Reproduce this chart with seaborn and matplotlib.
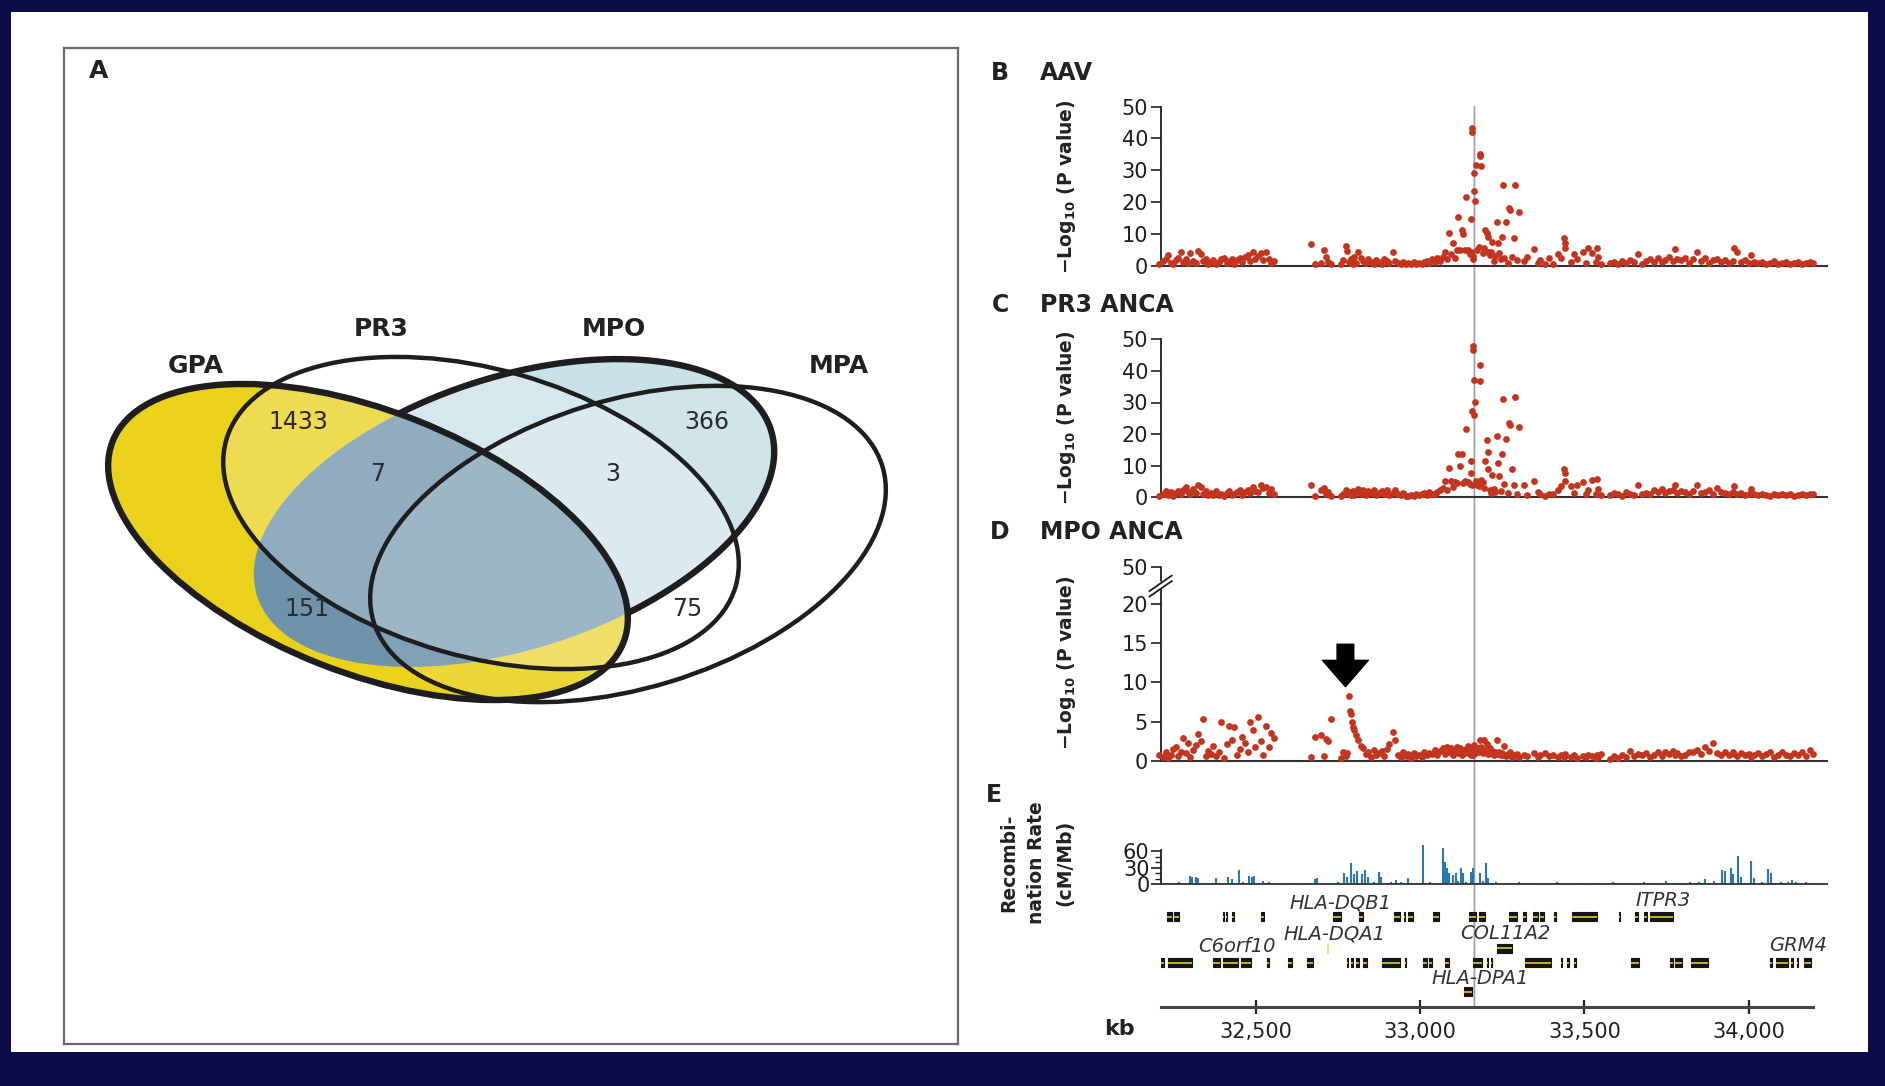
import numpy as np
import matplotlib
matplotlib.use("Agg")
import matplotlib.pyplot as plt
import seaborn as sns
from matplotlib.patches import Ellipse, Rectangle, ConnectionPatch

# ---------------- data ----------------
set_names = ["GPA", "PR3", "MPO", "MPA"]
region_counts = ["1433", "7", "3", "366", "151", "75"]

# SNP positions (kb, chr 6) and -log10 P for the three analyses
snp_kb = [
    32205, 32215, 32224, 32232, 32240, 32248, 32256, 32263, 32270, 32278,
    32286, 32293, 32300, 32308, 32316, 32323, 32331, 32338, 32346, 32354,
    32362, 32370, 32378, 32386, 32394, 32402, 32410, 32418, 32426, 32434,
    32442, 32450, 32458, 32466, 32474, 32482, 32490, 32498, 32506, 32514,
    32522, 32530, 32538, 32546, 32553,
    32668, 32680, 32698, 32706, 32712, 32718, 32728,
    32758, 32766, 32774, 32778, 32782, 32785, 32788, 32791, 32795, 32799,
    32804, 32811, 32818, 32826, 32834, 32842, 32850, 32858, 32866, 32874,
    32882, 32890, 32898, 32906, 32916, 32924, 32932, 32940, 32948, 32956,
    32964, 32972, 32980, 32988, 32996, 33004, 33012, 33020, 33028, 33036,
    33044, 33052, 33060, 33068, 33075, 33082, 33088, 33094, 33099, 33105,
    33112, 33115, 33122, 33128, 33131, 33136, 33139, 33145, 33150, 33154,
    33156, 33157, 33159, 33161, 33162, 33164, 33165, 33166, 33170, 33174,
    33178, 33181, 33183, 33186, 33190, 33194, 33197, 33202, 33205, 33207,
    33212, 33214, 33219, 33224, 33229, 33233, 33236, 33240, 33245, 33249,
    33253, 33256, 33262, 33266, 33270, 33273, 33280, 33286, 33289, 33294,
    33302,
    33316, 33326, 33346, 33358, 33366, 33380, 33392, 33405, 33421, 33429,
    33437, 33440, 33442, 33458, 33469, 33478, 33495, 33505, 33511, 33524,
    33535, 33537, 33540, 33552,
    33577, 33590, 33602, 33614, 33626, 33638, 33650, 33663, 33675, 33687,
    33699, 33711, 33723, 33735, 33747, 33759, 33771, 33775, 33783, 33795,
    33807, 33819, 33831, 33844, 33856, 33868, 33880, 33892, 33904, 33916,
    33928, 33940, 33952, 33957, 33964, 33976, 33988, 34000, 34006, 34018,
    34030, 34042, 34054, 34066, 34078, 34090, 34102, 34114, 34126, 34138,
    34150, 34162, 34174, 34186, 34196,
]

aav_logp = [
    0.6, 1.5, 2.2, 3.4, 1.0, 0.5, 1.8, 2.5, 4.2, 1.2,
    2.0, 0.7, 3.9, 1.6, 0.8, 4.6, 3.6, 1.4, 2.2, 0.6,
    1.1, 1.8, 0.5, 1.3, 2.0, 2.4, 0.9, 1.5, 2.1, 0.6,
    1.7, 2.3, 1.2, 2.6, 3.4, 1.5, 4.4, 2.0, 3.0, 3.9,
    1.8, 4.4, 2.2, 1.0, 1.6,
    6.7, 0.5, 1.0, 4.9, 2.8, 1.3, 0.4,
    0.6, 1.8, 6.3, 4.6, 1.2, 0.8, 2.0, 1.5, 0.6, 2.6,
    1.0, 4.4, 2.3, 1.5, 0.7, 2.1, 1.2, 0.5, 1.9, 1.3,
    0.6, 2.2, 1.4, 0.8, 4.2, 1.6, 0.9, 0.5, 1.1, 0.4,
    0.7, 0.5, 1.2, 0.4, 0.9, 0.6, 1.3, 1.6, 0.8, 2.0,
    1.1, 2.4, 1.5, 2.8, 4.4, 2.0, 10.4, 3.6, 7.0, 2.5,
    4.9, 15.3, 4.9, 11.2, 9.9, 4.9, 21.7, 4.9, 3.8, 14.7,
    4.2, 43.2, 41.9, 2.0, 3.1, 29.0, 23.5, 20.3, 31.7, 4.8,
    6.0, 35.0, 34.6, 31.2, 4.0, 5.5, 11.2, 10.2, 4.2, 9.1,
    3.4, 4.4, 7.5, 1.5, 3.0, 13.8, 7.0, 3.9, 2.0, 9.1,
    25.4, 2.3, 13.6, 1.0, 18.2, 17.5, 2.8, 8.8, 25.4, 1.8,
    17.0,
    1.5, 2.8, 5.2, 0.9, 1.8, 0.6, 2.3, 0.5, 3.6, 2.3,
    8.6, 7.0, 5.5, 1.2, 3.6, 2.0, 4.4, 0.8, 5.5, 3.9,
    1.3, 5.5, 2.8, 0.5,
    0.8, 1.2, 0.5, 1.5, 0.9, 1.8, 1.1, 3.8, 0.6, 1.6,
    2.0, 1.3, 2.4, 1.1, 1.9, 2.6, 1.4, 5.2, 2.2, 1.7,
    2.5, 1.0, 2.1, 4.4, 1.6, 2.3, 0.9, 1.8, 2.0, 1.2,
    1.7, 0.8, 1.5, 5.5, 4.4, 1.1, 1.9, 0.7, 3.4, 1.2,
    0.8, 1.3, 0.5, 1.0, 1.4, 0.6, 0.9, 1.2, 0.4, 0.8,
    1.1, 0.5, 0.9, 1.2, 0.7,
]

pr3_logp = [
    0.4, 1.2, 2.1, 0.8, 1.6, 0.5, 1.4, 2.0, 1.0, 2.4,
    3.2, 1.8, 0.9, 2.6, 1.5, 3.8, 3.2, 1.1, 2.0, 0.7,
    1.3, 0.6, 1.9, 0.8, 1.2, 0.5, 1.5, 1.9, 0.7, 1.0,
    1.6, 2.4, 0.8, 1.7, 2.4, 1.4, 3.4, 2.1, 1.8, 3.8,
    2.8, 3.2, 1.4, 2.6, 1.0,
    3.8, 0.4, 2.2, 3.0, 1.0, 1.7, 0.5,
    0.5, 1.2, 2.2, 1.5, 0.9, 1.8, 0.6, 1.4, 2.0, 0.8,
    1.7, 2.6, 1.1, 2.4, 0.6, 1.9, 1.3, 2.2, 0.8, 1.5,
    1.9, 1.2, 2.4, 0.7, 1.5, 2.2, 1.0, 0.6, 1.3, 0.4,
    0.5, 0.8, 0.4, 1.0, 0.6, 0.9, 1.4, 0.7, 1.8, 1.2,
    0.9, 1.6, 2.3, 3.0, 5.1, 2.4, 9.3, 5.3, 3.2, 4.9,
    4.5, 13.7, 9.8, 13.7, 4.5, 5.1, 21.6, 5.0, 4.2, 11.4,
    7.7, 27.2, 4.0, 47.8, 46.7, 37.2, 26.0, 30.2, 5.1, 4.0,
    3.6, 36.9, 42.0, 5.5, 4.8, 3.0, 11.6, 18.0, 8.8, 14.2,
    2.2, 1.4, 7.2, 2.5, 1.8, 19.3, 10.9, 6.6, 2.0, 13.7,
    31.2, 4.2, 18.5, 1.5, 23.5, 23.0, 8.8, 4.0, 31.8, 1.2,
    22.3,
    4.0, 0.8, 5.1, 1.6, 1.0, 0.5, 1.2, 0.9, 2.4, 3.5,
    8.8, 7.7, 5.3, 3.5, 1.5, 4.0, 4.9, 1.0, 2.2, 5.6,
    1.2, 5.9, 2.6, 0.6,
    0.6, 1.5, 0.9, 0.5, 1.8, 1.2, 0.7, 4.0, 1.1, 1.4,
    1.0, 2.2, 1.6, 2.6, 1.3, 1.9, 2.4, 4.0, 1.5, 2.1,
    1.8, 1.2, 2.0, 4.0, 1.4, 1.7, 2.3, 1.1, 3.0, 1.6,
    1.3, 0.9, 1.6, 3.5, 1.2, 1.4, 0.8, 1.1, 2.7, 0.9,
    0.6, 1.0, 0.8, 0.5, 1.1, 0.7, 0.9, 0.6, 1.0, 0.5,
    0.8, 1.0, 0.6, 0.9, 1.1,
]

mpo_logp = [
    0.7, 0.5, 1.2, 0.4, 0.8, 1.5, 1.8, 0.6, 1.1, 2.9,
    1.0, 2.3, 0.5, 1.4, 2.0, 3.4, 2.5, 5.4, 0.6, 1.3,
    0.9, 1.9, 0.6, 1.1, 4.9, 0.4, 2.1, 4.5, 2.7, 4.3,
    0.8, 1.5, 3.0, 2.3, 1.2, 5.0, 4.0, 1.8, 5.6, 2.5,
    0.8, 4.4, 1.8, 3.5, 2.9,
    0.5, 3.1, 3.3, 0.6, 2.8, 2.5, 5.4,
    0.4, 1.2, 0.6, 1.0, 8.3, 6.4, 6.0, 5.0, 4.3, 3.9,
    3.3, 2.7, 1.9, 1.6, 0.9, 1.2, 0.5, 1.4, 0.7, 1.0,
    1.3, 0.6, 1.5, 2.1, 3.7, 2.7, 0.8, 0.5, 1.1, 0.6,
    0.9, 0.4, 1.0, 0.6, 0.8, 0.5, 1.2, 0.7, 1.0, 0.9,
    1.4, 0.8, 1.3, 1.6, 0.9, 1.8, 1.1, 1.6, 0.7, 1.2,
    1.8, 1.0, 1.6, 0.8, 1.4, 1.0, 1.5, 1.9, 0.9, 1.3,
    0.8, 1.1, 1.6, 1.2, 0.7, 1.4, 2.0, 1.0, 1.3, 1.7,
    1.1, 2.7, 1.5, 1.8, 1.0, 2.7, 1.4, 2.1, 1.2, 0.9,
    1.7, 1.0, 1.3, 0.8, 1.1, 2.7, 0.9, 1.2, 0.7, 1.0,
    0.8, 1.9, 0.6, 0.9, 0.7, 1.1, 0.5, 0.8, 0.6, 0.9,
    0.5,
    0.8, 0.6, 1.0, 0.5, 0.7, 1.0, 0.6, 0.8, 0.5, 0.7,
    0.5, 0.9, 0.6, 0.5, 0.7, 0.4, 0.6, 0.5, 0.8, 0.6,
    0.4, 0.7, 0.5, 0.9,
    0.3, 0.6, 0.4, 0.8, 0.5, 1.3, 0.6, 0.9, 0.7, 1.0,
    0.5, 0.8, 1.1, 0.6, 1.2, 0.9, 1.3, 0.7, 1.0, 0.6,
    0.8, 1.1, 1.2, 1.4, 0.9, 1.8, 1.3, 2.3, 1.0, 0.7,
    1.1, 0.8, 1.2, 0.9, 0.6, 1.0, 0.7, 0.9, 0.5, 0.8,
    1.0, 0.6, 0.9, 1.1, 0.5, 0.8, 1.2, 0.7, 0.6, 1.0,
    0.7, 1.1, 0.6, 1.4, 0.9,
]

# recombination rate (cM/Mb)
rec_kb = [
    32230, 32250, 32265, 32299, 32306, 32318, 32324, 32350, 32379, 32395,
    32414, 32427, 32447, 32460, 32478, 32487, 32494, 32505, 32520, 32540,
    32600, 32650, 32678, 32685, 32700, 32720, 32750, 32768, 32778, 32788,
    32797, 32808, 32821, 32832, 32841, 32860, 32874, 32881, 32895, 32910,
    32927, 32940, 32964, 32990, 33009, 33030, 33045, 33070, 33075, 33082,
    33088, 33101, 33108, 33115, 33125, 33130, 33140, 33154, 33161, 33181,
    33190, 33200, 33207, 33230, 33260, 33300, 33350, 33418, 33480, 33530,
    33588, 33620, 33683, 33710, 33749, 33790, 33821, 33850, 33868, 33880,
    33894, 33918, 33927, 33947, 33954, 33967, 33976, 34006, 34016, 34040,
    34059, 34068, 34080, 34099, 34120, 34132, 34145, 34174, 34190,
]
rec_rate = [
    3, 2, 4, 15.6, 13.8, 13.8, 12, 3, 10.8, 2.5,
    13.8, 9.6, 25.8, 4, 15.6, 13.8, 15.6, 3, 6, 4.8,
    2, 2, 9.6, 11, 3, 2, 4, 19.8, 14, 37.8,
    18, 24, 18, 25.8, 14, 5, 22.8, 14, 3, 4,
    7.8, 4, 10.8, 3, 70.8, 5, 3, 64.8, 40.8, 28.8,
    19.8, 16.8, 19.8, 6, 28.8, 20, 5, 22.8, 28.8, 19.8,
    6, 37.8, 12, 4, 2, 4.8, 2, 3.6, 2, 2,
    4.8, 3, 3.6, 2, 6, 3, 4.8, 4, 9.6, 3,
    6, 25.8, 24, 28.8, 18, 51.6, 14, 42, 12, 4,
    27.6, 19.8, 3, 4, 4, 7.8, 5, 5, 3,
]

# genes (start, end in kb)
gene_row1 = [
    (32229, 32244), (32250, 32265), (32400, 32403), (32407, 32410), (32427, 32432),
    (32516, 32525), (32735, 32758), (32814, 32826), (32919, 32937), (32950, 32955),
    (32964, 32978), (33039, 33057), (33147, 33170), (33179, 33197), (33269, 33296),
    (33313, 33322), (33344, 33358), (33365, 33376), (33408, 33412), (33462, 33537),
    (33605, 33609), (33654, 33663), (33681, 33692), (33700, 33770),
]
gene_row2 = [
    (32194, 32220), (32233, 32305), (32369, 32391), (32400, 32444), (32453, 32484),
    (32534, 32538), (32597, 32609), (32656, 32672), (32776, 32780), (32790, 32794),
    (32803, 32814), (32826, 32839), (32883, 32937), (32955, 32958), (33009, 33020),
    (33027, 33036), (33075, 33089), (33161, 33188), (33202, 33206), (33214, 33218),
    (33319, 33398), (33430, 33433), (33448, 33452), (33469, 33473), (33641, 33666),
    (33761, 33770), (33777, 33797), (33824, 33878), (34066, 34070), (34083, 34120),
    (34130, 34134), (34148, 34152), (34168, 34190),
]
col11a2_kb = (33233, 33278)
hla_dqa1_kb = (32713, 32722)
hla_dpa1_kb = (33134, 33158)
gene_names = ["HLA-DQB1", "ITPR3", "HLA-DQA1", "COL11A2", "C6orf10", "GRM4", "HLA-DPA1"]

kb_ticks = [32500, 33000, 33500, 34000]
lead_snp_kb = 33165
mpo_signal_kb = 32772

# ---------------- style ----------------
sns.set_style("white")
plt.rcParams["font.family"] = ["DejaVu Sans"]
plt.rcParams["mathtext.fontset"] = "dejavusans"

W, H = 1885, 1086
RED = "#c4351f"
BLUE = "#2b78b4"
YELLOW = "#e9d11c"
LIGHTBLUE = "#c9e2e8"
SLATE = "#6e93ab"
INK = "#1e1e1e"

fig = plt.figure(figsize=(W / 100, H / 100), dpi=100, facecolor="#0c0c48")
fig.add_artist(Rectangle((11 / W, 1 - 1052 / H), (1868 - 11) / W, (1052 - 12) / H,
                         transform=fig.transFigure, facecolor="white",
                         edgecolor="none", zorder=-2))


def fax(left, top, right, bottom):
    return fig.add_axes([left / W, 1 - bottom / H, (right - left) / W, (bottom - top) / H])


def ftext(x, y, s, **kw):
    fig.text(x / W, 1 - y / H, s, **kw)


# ---------------- panel A: Venn ----------------
axA = fax(64, 48, 958, 1044)
axA.set_xlim(64, 958)
axA.set_ylim(1044, 48)
axA.set_xticks([])
axA.set_yticks([])
for sp in axA.spines.values():
    sp.set_visible(True)
    sp.set_color("#6a6a6a")
    sp.set_linewidth(1.6)

venn_geom = {
    "GPA": ((368, 542), 549, 262, 21.5),
    "PR3": ((481, 513), 530, 287, 16),
    "MPO": ((514, 513), 540, 272, -18),
    "MPA": ((628, 544), 532, 288, -17),
}


def ell(name, **kw):
    c, w, h, a = venn_geom[name]
    p = Ellipse(c, w, h, angle=a, **kw)
    axA.add_patch(p)
    return p


def inside(pts, name):
    (cx, cy), w, h, a = venn_geom[name]
    th = np.deg2rad(a)
    dx, dy = pts[:, 0] - cx, pts[:, 1] - cy
    u = dx * np.cos(th) + dy * np.sin(th)
    v = -dx * np.sin(th) + dy * np.cos(th)
    return (u / (w / 2)) ** 2 + (v / (h / 2)) ** 2 < 1


ell("MPO", facecolor=LIGHTBLUE, edgecolor="none", zorder=1)
gpa_fill = ell("GPA", facecolor=YELLOW, edgecolor="none", zorder=2)
overlap = ell("MPO", facecolor=SLATE, edgecolor="none", zorder=3)
overlap.set_clip_path(gpa_fill)
ell("PR3", facecolor="white", alpha=0.24, edgecolor="none", zorder=4)
ell("MPA", facecolor="white", alpha=0.12, edgecolor="none", zorder=4)

# MPO outline only where it lies outside GPA
(cx, cy), w, h, a = venn_geom["MPO"]
t = np.linspace(0, 2 * np.pi, 1500)
th = np.deg2rad(a)
px = cx + (w / 2) * np.cos(t) * np.cos(th) - (h / 2) * np.sin(t) * np.sin(th)
py = cy + (w / 2) * np.cos(t) * np.sin(th) + (h / 2) * np.sin(t) * np.cos(th)
pts = np.column_stack([px, py])
mask = inside(pts, "GPA")
start = int(np.argmax(mask))
pts = np.roll(pts, -start, axis=0)
mask = np.roll(mask, -start)
pts[mask] = np.nan
axA.plot(pts[:, 0], pts[:, 1], color=INK, lw=4.6, zorder=5, solid_capstyle="butt")

ell("GPA", facecolor="none", edgecolor=INK, lw=4.6, zorder=6)
ell("PR3", facecolor="none", edgecolor=INK, lw=3.2, zorder=6)
ell("MPA", facecolor="none", edgecolor=INK, lw=3.2, zorder=6)

for name, (x, y) in zip(set_names, [(196, 366), (381, 329), (614, 329), (839, 366)]):
    axA.text(x, y, name, ha="center", va="center", fontsize=18, fontweight="bold", color="#222222")
for cnt, (x, y) in zip(region_counts, [(298, 422), (378, 474), (613, 474), (707, 422), (307, 609), (687, 609)]):
    axA.text(x, y, cnt, ha="center", va="center", fontsize=17, color="#2b2b2b", zorder=7)
axA.text(99, 71, "A", ha="center", va="center", fontsize=18, fontweight="bold", color="#222222")

# ---------------- panels B-D: association plots ----------------
XLIM = (32209, 34239)
ylab = "\u2212Log$_{\\mathbf{10}}$ (P value)"


def style_left(ax):
    for s in ("top", "right"):
        ax.spines[s].set_visible(False)
    ax.spines["left"].set_color(INK)
    ax.spines["left"].set_linewidth(1.3)
    ax.spines["bottom"].set_color("#333333")
    ax.spines["bottom"].set_linewidth(1.5)
    ax.tick_params(axis="y", left=True, length=7, width=1.2, labelsize=15, pad=2, colors=INK)
    ax.tick_params(axis="x", bottom=False, labelbottom=False)
    ax.set_xlim(*XLIM)
    ax.set_xlabel("")
    ax.set_ylabel("")
    ax.patch.set_alpha(0)


def manhattan(ax, vals):
    sns.scatterplot(x=snp_kb, y=vals, ax=ax, color=RED, s=24, linewidth=0,
                    legend=False, clip_on=False, zorder=3)
    style_left(ax)


axB = fax(1160.6, 106.7, 1827, 265.7)
manhattan(axB, aav_logp)
axB.set_ylim(0, 50)
axB.set_yticks([0, 10, 20, 30, 40, 50])

axC = fax(1160.6, 339.3, 1827, 497.3)
manhattan(axC, pr3_logp)
axC.set_ylim(0, 50)
axC.set_yticks([0, 10, 20, 30, 40, 50])

axD = fax(1160.6, 567.3, 1827, 761)
manhattan(axD, mpo_logp)
axD.set_ylim(0, 24.64)
axD.set_yticks([0, 5, 10, 15, 20, 24.64])
axD.set_yticklabels(["0", "5", "10", "15", "20", "50"])
axD.spines["left"].set_bounds(0, 21.7)
ytr = axD.get_yaxis_transform()
axD.plot([0, 0], [22.9, 24.64], color=INK, lw=1.3, transform=ytr, clip_on=False)
axD.plot([-0.017, 0.017], [20.9, 22.9], color=INK, lw=1.3, transform=ytr, clip_on=False)
axD.plot([-0.017, 0.017], [21.6, 23.6], color=INK, lw=1.3, transform=ytr, clip_on=False)
axD.annotate("", xy=(mpo_signal_kb, 9.45), xytext=(mpo_signal_kb, 14.85),
             arrowprops=dict(arrowstyle="simple,head_length=1.9,head_width=3.3,tail_width=1.2",
                             color="black", shrinkA=0, shrinkB=0, mutation_scale=10))

# ---------------- panel E: recombination + genes ----------------
axR = fax(1160.6, 844.3, 1827, 884.3)
axR.axhline(0.6, color="#9fcbe6", lw=2.2, zorder=1)
axR.vlines(rec_kb, 0, rec_rate, color=BLUE, lw=1.5, zorder=2)
style_left(axR)
axR.set_ylim(0, 72)
axR.set_yticks([0, 30, 60])
axR.set_yticks([10, 20, 40, 50], minor=True)
axR.tick_params(axis="y", which="minor", left=True, length=4, width=1.0, colors=INK)
axR.tick_params(axis="y", labelsize=15, pad=1)
axR.spines["left"].set_bounds(0, 62)
axR.spines["bottom"].set_linewidth(1.3)

axG = fax(1160.6, 888, 1827, 1006.7)
axG.set_xlim(*XLIM)
axG.set_ylim(1006.7, 888)
axG.patch.set_alpha(0)
for s in ("top", "right", "left"):
    axG.spines[s].set_visible(False)
axG.spines["bottom"].set_bounds(XLIM[0], 34195)
axG.spines["bottom"].set_color("#444444")
axG.spines["bottom"].set_linewidth(2.2)
axG.set_yticks([])
axG.set_xticks(kb_ticks)
axG.set_xticklabels([f"{k:,}" for k in kb_ticks])
axG.tick_params(axis="x", bottom=True, direction="inout", length=10, width=1.6,
                labelsize=15, pad=6, colors="#222222")


def gene_track(blocks, y, h=9, face="#151515", stripe="#d9b92e"):
    axG.broken_barh([(s, e - s) for s, e in blocks], (y - h / 2, h), facecolors=face,
                    edgecolors=face, linewidth=0.8, zorder=2)
    axG.hlines([y] * len(blocks), [s for s, _ in blocks], [e for _, e in blocks],
               color=stripe, lw=1.3, zorder=3)


gene_track(gene_row1, 916.7)
gene_track(gene_row2, 962.7)
gene_track([col11a2_kb], 948.3)
gene_track([hla_dpa1_kb], 991.7)
axG.broken_barh([(hla_dqa1_kb[0], hla_dqa1_kb[1] - hla_dqa1_kb[0])], (942.5, 11),
                facecolors="#efd84a", zorder=2)

label_at = [(32757, 903.3), (33739, 900.7), (32739, 934), (33260, 933.3),
            (32442, 946.7), (34150, 945.7), (33183, 978.3)]
for name, (x, y) in zip(gene_names, label_at):
    axG.text(x, y, name, ha="center", va="center", fontsize=14, style="italic", color="#333333")

# lead SNP guide line through all panels
con = ConnectionPatch(xyA=(lead_snp_kb, 50), coordsA=axB.transData,
                      xyB=(lead_snp_kb, 1006.7), coordsB=axG.transData,
                      color="#a3a3a3", lw=1.3, zorder=-1)
fig.add_artist(con)

# ---------------- panel headings and axis titles ----------------
head = dict(fontsize=17, fontweight="bold", color="#222222", va="center")
for letter, title, y in [("B", "AAV", 73), ("C", "PR3 ANCA", 305), ("D", "MPO ANCA", 532)]:
    ftext(1000, y, letter, ha="center", **head)
    ftext(1040, y, title, ha="left", **head)
ftext(994, 795, "E", ha="center", **head)

for y in (187, 418, 663):
    ftext(1066, y, ylab, rotation=90, ha="center", va="center", fontsize=13.5,
          fontweight="bold", color="#222222")
ftext(1037, 863, "Recombi-\nnation Rate\n(cM/Mb)", rotation=90, ha="center", va="center",
      fontsize=13.5, fontweight="bold", color="#222222", linespacing=1.6, multialignment="center")
ftext(1119, 1029, "kb", ha="center", va="center", fontsize=16, fontweight="bold", color="#222222")

fig.savefig("out.png", dpi=100, facecolor=fig.get_facecolor())
